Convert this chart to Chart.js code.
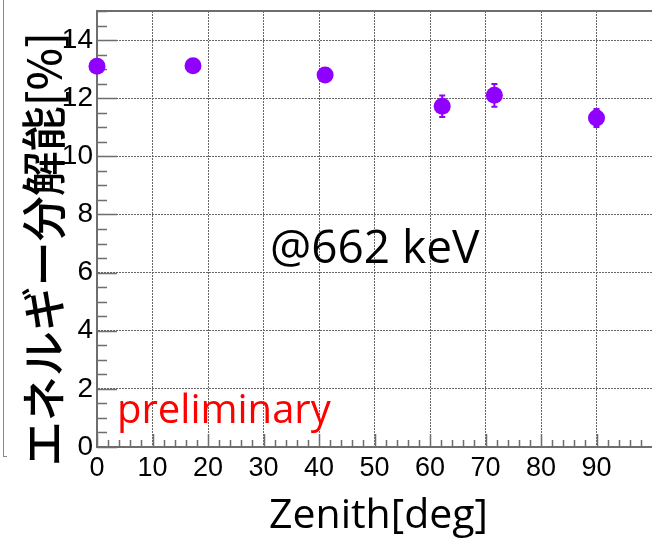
<!DOCTYPE html>
<html>
<head>
<meta charset="utf-8">
<script src="https://cdn.jsdelivr.net/npm/chart.js@4.4.1/dist/chart.umd.min.js"></script>
<style>
  html, body { margin: 0; padding: 0; background: #fff; overflow: hidden; }
  #wrap { position: relative; width: 652px; height: 542px; overflow: hidden; }
  #my-chart { position: absolute; left: 0; top: 0; }
  .txt { position: absolute; white-space: nowrap; font-family: "Open Sans", "Noto Sans", sans-serif; }
  #ytitle {
    left: 42px; top: 249px; width: 480px; height: 50px; margin-left: -240px; margin-top: -25px;
    line-height: 50px; text-align: center; transform: rotate(-90deg);
    font-family: "Noto Sans CJK JP", sans-serif; font-size: 45px; font-weight: 500; color: #000;
  }
  #xtitle { left: 269px; top: 492px; font-size: 41px; line-height: 40px; color: #000; }
  #energy { left: 270px; top: 222px; font-size: 46px; line-height: 46px; color: #000; }
  #prelim { left: 117px; top: 388px; font-size: 40px; line-height: 40px; color: #ff0000; }
  #leftEdge { position: absolute; left: 3px; top: 0; width: 3px; height: 456px; border-left: 1px solid #888; border-bottom: 1px solid #888; }
</style>
</head>
<body>
<div id="wrap">
  <canvas id="my-chart" width="652" height="542"></canvas>
  <div id="leftEdge"></div>
  <div class="txt" id="ytitle">エネルギー分解能[%]</div>
  <div class="txt" id="xtitle">Zenith[deg]</div>
  <div class="txt" id="energy">@662 keV</div>
  <div class="txt" id="prelim">preliminary</div>
</div>
<script>
// zenith angle [deg] vs energy resolution [%] at 662 keV
const zenith = [0, 17.3, 41.1, 62.2, 71.6, 90]
const resolution = [13.1, 13.12, 12.8, 11.72, 12.1, 11.32]
const resErr = [0.15, 0.15, 0.15, 0.37, 0.39, 0.31]

const xTickValues = [0, 10, 20, 30, 40, 50, 60, 70, 80, 90]
const yTickValues = [0, 2, 4, 6, 8, 10, 12, 14]

const markerColor = '#8f00ff'
const frameColor = '#6e6e6e'
const gridColor = '#666'

// ROOT style: ticks inside the frame, error bars, top frame line
const rootFrame = {
    id: 'rootFrame',
    beforeDatasetsDraw(chart) {
        const ctx = chart.ctx
        const area = chart.chartArea
        const xs = chart.scales.x
        const ys = chart.scales.y
        ctx.save()
        ctx.strokeStyle = frameColor
        ctx.lineWidth = 1.5
        ctx.beginPath()
        for (let v = ys.min; v <= ys.max + 0.001; v += 0.5) {
            const p = Math.round(ys.getPixelForValue(v)) + 0.5
            const len = (v % 2 === 0) ? 20 : 10
            ctx.moveTo(area.left, p)
            ctx.lineTo(area.left + len, p)
        }
        for (let v = xs.min; v < xs.max; v += 2) {
            const p = Math.round(xs.getPixelForValue(v)) + 0.5
            const len = (v % 10 === 0) ? 13 : 7
            ctx.moveTo(p, area.bottom)
            ctx.lineTo(p, area.bottom - len)
        }
        ctx.stroke()

        // top frame
        ctx.lineWidth = 2
        ctx.beginPath()
        ctx.moveTo(area.left, area.top)
        ctx.lineTo(area.right, area.top)
        ctx.stroke()

        // error bars
        const meta = chart.getDatasetMeta(0)
        ctx.strokeStyle = markerColor
        ctx.lineWidth = 2
        ctx.beginPath()
        meta.data.forEach((pt, i) => {
            const yHi = ys.getPixelForValue(resolution[i] + resErr[i])
            const yLo = ys.getPixelForValue(resolution[i] - resErr[i])
            ctx.moveTo(pt.x, yHi)
            ctx.lineTo(pt.x, yLo)
            ctx.moveTo(pt.x - 3, yHi)
            ctx.lineTo(pt.x + 3, yHi)
            ctx.moveTo(pt.x - 3, yLo)
            ctx.lineTo(pt.x + 3, yLo)
        })
        ctx.stroke()
        ctx.restore()
    }
}

const myChart = document.getElementById('my-chart')

new Chart(myChart, {
    type: 'scatter',
    data: {
        datasets: [
            {
                label: 'energy resolution',
                data: zenith.map((z, i) => ({ x: z, y: resolution[i] })),
                backgroundColor: markerColor,
                borderWidth: 0,
                pointRadius: 8.5,
                pointHoverRadius: 8.5,
                clip: false
            }
        ]
    },
    options: {
        responsive: false,
        animation: false,
        devicePixelRatio: 1,
        layout: { autoPadding: false, padding: { top: 11, right: 0, left: 0, bottom: 0 } },
        plugins: {
            legend: { display: false },
            tooltip: { enabled: false }
        },
        scales: {
            x: {
                type: 'linear',
                min: 0,
                max: 100,
                afterBuildTicks: (scale) => { scale.ticks = xTickValues.map(v => ({ value: v })) },
                afterFit: (scale) => {
                    scale.height = 95
                    scale.paddingLeft = 0
                    scale.paddingRight = 0
                },
                ticks: {
                    color: '#000',
                    padding: 5,
                    maxRotation: 0,
                    autoSkip: false,
                    font: { family: 'Liberation Sans', size: 27 }
                },
                grid: {
                    drawTicks: false,
                    color: (c) => (c.tick && c.tick.value >= 100) ? 'rgba(0,0,0,0)' : gridColor,
                    lineWidth: 1
                },
                border: { display: true, color: frameColor, width: 2, dash: [2, 1] }
            },
            y: {
                type: 'linear',
                min: 0,
                max: 15,
                afterBuildTicks: (scale) => { scale.ticks = yTickValues.map(v => ({ value: v })) },
                afterFit: (scale) => {
                    scale.width = 97
                    scale.paddingTop = 0
                    scale.paddingBottom = 0
                },
                ticks: {
                    color: '#000',
                    padding: 4,
                    autoSkip: false,
                    font: { family: 'Liberation Sans', size: 28 }
                },
                grid: {
                    drawTicks: false,
                    color: gridColor,
                    lineWidth: 1
                },
                border: { display: true, color: frameColor, width: 2, dash: [2, 1] }
            }
        }
    },
    plugins: [rootFrame]
})
</script>
</body>
</html>
